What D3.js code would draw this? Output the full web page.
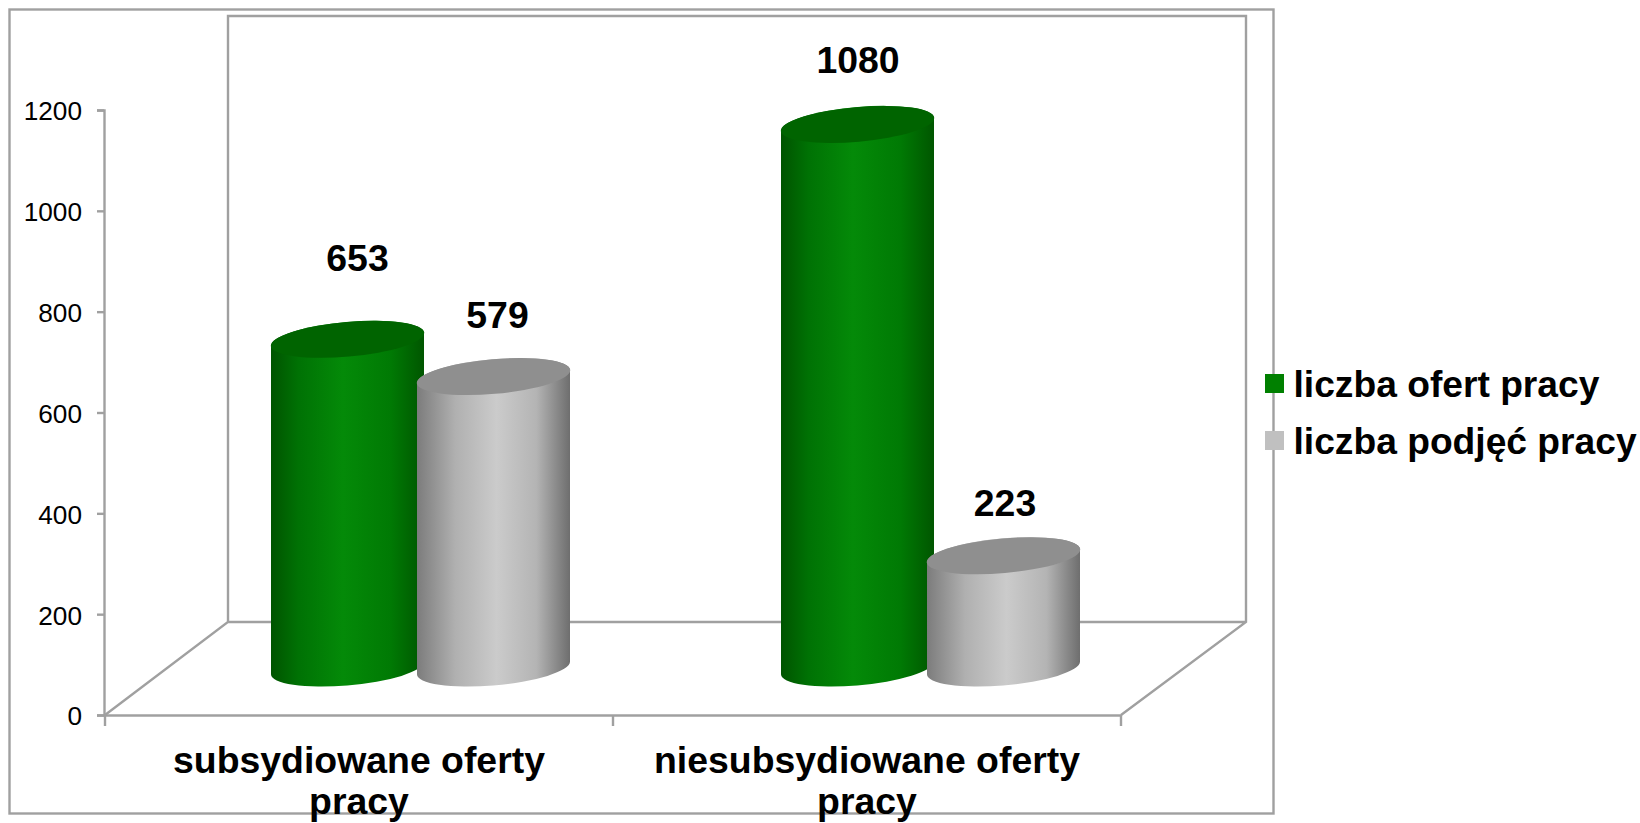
<!DOCTYPE html>
<html>
<head>
<meta charset="utf-8">
<script src="https://cdn.jsdelivr.net/npm/d3@7"></script>
<style>
    body { margin: 0; background: #fff; }
    svg { display: block; }
    text { font-family: "Liberation Sans", Arial, sans-serif; fill: #000; }
    .axis path, .axis line { stroke: #a0a0a0; stroke-width: 2.4; fill: none; }
    .axis text { font-size: 26.2px; }
    .cat text { font-size: 37.4px; font-weight: bold; }
</style>
</head>
<body>
<div id="chart"></div>
<script>
const categories = ['subsydiowane oferty pracy', 'niesubsydiowane oferty pracy'];
const seriesNames = ['liczba ofert pracy', 'liczba podjęć pracy'];
const ofertyValues = [653, 1080];
const podjeciaValues = [579, 223];
const yTicks = [0, 200, 400, 600, 800, 1000, 1200];

const width = 1640, height = 823;
const lineColor = '#a0a0a0';

const svg = d3.select('#chart').append('svg')
    .attr('width', width)
    .attr('height', height);

// gradienty walcow
const defs = svg.append('defs');
function sideGradient(id, stops) {
    const g = defs.append('linearGradient').attr('id', id)
        .attr('x1', 0).attr('y1', 0).attr('x2', 1).attr('y2', 0);
    stops.forEach(s => g.append('stop').attr('offset', s[0]).attr('stop-color', s[1]));
}
sideGradient('sideGreen', [[0, '#005400'], [0.18, '#007204'], [0.47, '#048a08'], [0.78, '#007a04'], [1, '#005600']]);
sideGradient('sideGray', [[0, '#7c7c7c'], [0.25, '#b0b0b0'], [0.52, '#cbcbcb'], [0.78, '#b4b4b4'], [1, '#6e6e6e']]);

const seriesStyle = [
    { side: 'url(#sideGreen)', top: '#006400', swatch: '#008000' },
    { side: 'url(#sideGray)', top: '#8f8f8f', swatch: '#c0c0c0' }
];

// ramka i sciany
svg.append('rect')
    .attr('x', 9.5).attr('y', 9.5).attr('width', 1264).attr('height', 804)
    .attr('fill', 'none').attr('stroke', lineColor).attr('stroke-width', 2.4);
svg.append('path')
    .attr('d', 'M105,715 L228,622 L228,16 L1246,16 L1246,622 L1121,715 M228,622 L1246,622')
    .attr('fill', 'none').attr('stroke', lineColor).attr('stroke-width', 2.4);

// osie
const yAxisScale = d3.scaleLinear().domain([0, 1200]).range([715, 110]);
const x0 = d3.scaleBand().domain(categories).range([105, 1121]);

const yAxisG = svg.append('g')
    .attr('class', 'axis')
    .attr('transform', 'translate(104,0)')
    .call(d3.axisLeft(yAxisScale).tickValues(yTicks).tickSize(7).tickPadding(15).tickFormat(d3.format('d')));
yAxisG.selectAll('.tick text').attr('dy', '0.38em');

const xAxisG = svg.append('g')
    .attr('class', 'axis cat')
    .attr('transform', 'translate(0,715)')
    .call(d3.axisBottom(x0).tickSize(0).tickFormat(''));

// znaczniki miedzy kategoriami
xAxisG.selectAll('.sep')
    .data(x0.domain().map(d => x0(d)).concat([x0.range()[1]]))
    .enter().append('line')
    .attr('class', 'sep')
    .attr('x1', d => d).attr('x2', d => d)
    .attr('y1', 0).attr('y2', 11);

// etykiety kategorii w dwoch wierszach
xAxisG.selectAll('.tick text').remove();
xAxisG.selectAll('.tick').append('text')
    .attr('text-anchor', 'middle')
    .each(function (d) {
        const cut = d.lastIndexOf(' ');
        const t = d3.select(this);
        t.append('tspan').attr('x', 0).attr('y', 58).text(d.slice(0, cut));
        t.append('tspan').attr('x', 0).attr('y', 99).text(d.slice(cut + 1));
    });

// walce
const yBar = d3.scaleLinear().domain([0, 1200]).range([668, 64]);
const xBar = d3.scaleBand().domain(categories).range([104, 1124]);
const x1 = d3.scaleBand().domain(seriesNames).range([0, 292]);
const depthX = 170.5;
const rx = 76.5, ry = 17.3, tilt = -5, tiltOffset = 6.3;

const rows = [];
categories.forEach((c, i) => {
    rows.push({ cat: c, s: 0, value: ofertyValues[i] });
    rows.push({ cat: c, s: 1, value: podjeciaValues[i] });
});
const cx = d => xBar(d.cat) + depthX + x1(seriesNames[d.s]) + x1.bandwidth() / 2;

// przesuniecia etykiet wartosci nad walcami
const labelDx = [10, 4, 0.5, 1.5];
const labelDy = [68.5, 48.5, 51.5, 39.5];

const bars = svg.selectAll('.cyl')
    .data(rows)
    .enter().append('g')
    .attr('class', 'cyl');

bars.append('path')
    .attr('fill', d => seriesStyle[d.s].side)
    .attr('d', d => {
        const c = cx(d), yt = yBar(d.value), yb = yBar(0);
        const l = c - rx, r = c + rx;
        return `M${l},${yt + tiltOffset} L${l},${yb + tiltOffset}` +
            ` A${rx},${ry} ${tilt} 0 0 ${r},${yb - tiltOffset}` +
            ` L${r},${yt - tiltOffset}` +
            ` A${rx},${ry} ${tilt} 0 0 ${l},${yt + tiltOffset} Z`;
    });

bars.append('ellipse')
    .attr('cx', 0).attr('cy', 0)
    .attr('rx', rx + 0.5).attr('ry', ry)
    .attr('fill', d => seriesStyle[d.s].top)
    .attr('transform', d => `translate(${cx(d)},${yBar(d.value)}) rotate(${tilt})`);

// wartosci
svg.selectAll('.val')
    .data(rows)
    .enter().append('text')
    .attr('class', 'val')
    .attr('text-anchor', 'middle')
    .attr('font-size', 37.4)
    .attr('font-weight', 'bold')
    .attr('x', (d, i) => cx(d) + labelDx[i])
    .attr('y', (d, i) => yBar(d.value) - labelDy[i])
    .text(d => d.value);

// legenda
const legendY = d3.scalePoint().domain(seriesNames).range([374, 431]);
const legend = svg.selectAll('.leg')
    .data(seriesNames)
    .enter().append('g')
    .attr('class', 'leg')
    .attr('transform', d => `translate(1265,${legendY(d)})`);
legend.append('rect')
    .attr('width', 19).attr('height', 19)
    .attr('fill', (d, i) => seriesStyle[i].swatch);
legend.append('text')
    .attr('x', 28.5).attr('y', 22.5)
    .attr('font-size', 37.2)
    .attr('font-weight', 'bold')
    .text(d => d);
</script>
</body>
</html>
